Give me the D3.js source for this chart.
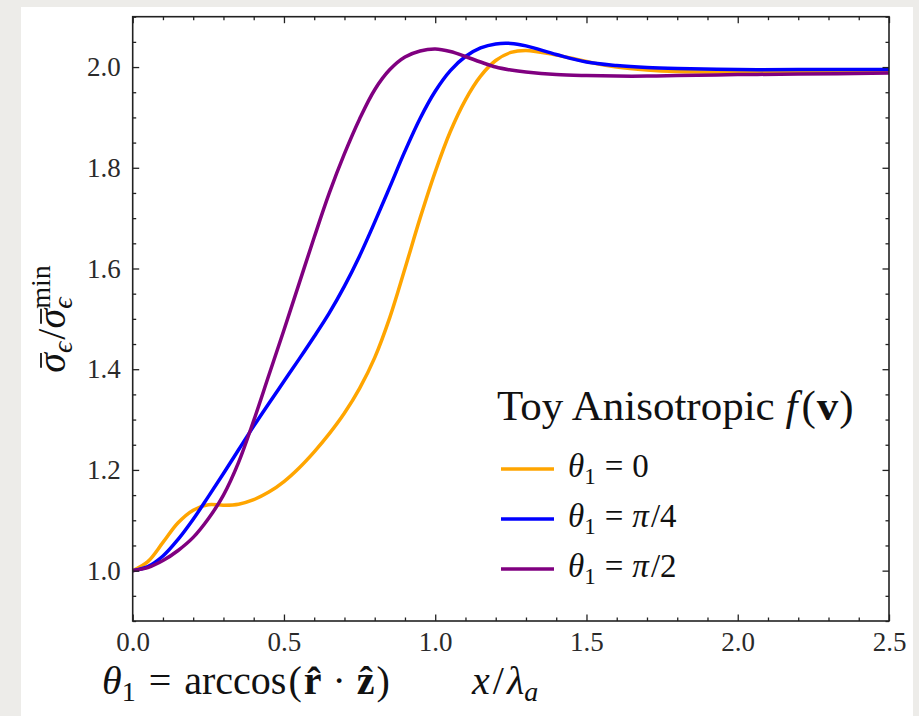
<!DOCTYPE html>
<html>
<head>
<meta charset="utf-8">
<script src="https://cdn.jsdelivr.net/npm/d3@7"></script>
<style>
  body { margin: 0; background: #edece9; }
  svg { display: block; }
</style>
</head>
<body>
<svg id="chart" width="919" height="716"></svg>
<script>
// Sampled positions x / lambda_a shared by all three curves
const xGrid = [0, 0.05, 0.1, 0.15, 0.2, 0.25, 0.3, 0.35, 0.4, 0.45, 0.5, 0.55, 0.6, 0.65,
  0.7, 0.75, 0.8, 0.85, 0.9, 0.95, 1.0, 1.05, 1.1, 1.15, 1.2, 1.25, 1.3, 1.4, 1.5, 1.6,
  1.7, 1.8, 2.0, 2.2, 2.5];

// sigma_eps / sigma_eps^min for theta_1 = 0
const ratioTheta0 = [1.0, 1.018, 1.056, 1.095, 1.120, 1.131, 1.130, 1.132, 1.141, 1.156,
  1.177, 1.204, 1.236, 1.272, 1.313, 1.362, 1.423, 1.503, 1.600, 1.700, 1.792, 1.872,
  1.935, 1.982, 2.013, 2.029, 2.033, 2.024, 2.011, 2.000, 1.994, 1.991, 1.990, 1.990, 1.990];

// theta_1 = pi/4
const ratioThetaQuarter = [1.0, 1.008, 1.029, 1.062, 1.102, 1.147, 1.193, 1.240, 1.287, 1.332,
  1.376, 1.420, 1.465, 1.512, 1.565, 1.625, 1.692, 1.762, 1.833, 1.898, 1.952, 1.993,
  2.021, 2.038, 2.046, 2.047, 2.042, 2.025, 2.010, 2.003, 1.999, 1.997, 1.995, 1.995, 1.995];

// theta_1 = pi/2
const ratioThetaHalf = [1.0, 1.006, 1.020, 1.040, 1.066, 1.103, 1.150, 1.215, 1.298, 1.388,
  1.478, 1.570, 1.662, 1.750, 1.828, 1.897, 1.955, 1.995, 2.020, 2.032, 2.036, 2.031,
  2.021, 2.010, 2.000, 1.994, 1.990, 1.985, 1.983, 1.982, 1.982, 1.983, 1.985, 1.986, 1.988];

const seriesValues = [ratioTheta0, ratioThetaQuarter, ratioThetaHalf];
const seriesAngles = ["0", "π/4", "π/2"];
const seriesColors = ["#FFA500", "#0000FF", "#800080"];

const xMajorTicks = [0, 0.5, 1.0, 1.5, 2.0, 2.5];
const yMajorTicks = [1.0, 1.2, 1.4, 1.6, 1.8, 2.0];
const xMinorTicks = d3.range(0, 26).map(i => i / 10).filter(v => Math.abs(v * 2 - Math.round(v * 2)) > 1e-6);
const yMinorTicks = d3.range(18, 43).map(i => i / 20).filter(v => Math.abs(v * 5 - Math.round(v * 5)) > 1e-6);

const FONT = "'Liberation Serif', 'DejaVu Serif', serif";
const INK = "#222";
const TEXT = "#111";

const svg = d3.select("#chart");

// paper panel behind the figure
svg.append("rect").attr("x", 21).attr("y", 7).attr("width", 892).attr("height", 716)
  .attr("fill", "#ffffff");

const plot = { left: 132.7, right: 889, top: 16.7, bottom: 621 };
const x = d3.scaleLinear().domain([0, 2.5]).range([plot.left, plot.right]);
const y = d3.scaleLinear().domain([0.9, 2.1]).range([plot.bottom, plot.top]);

svg.append("clipPath").attr("id", "plotClip").append("rect")
  .attr("x", plot.left).attr("y", plot.top)
  .attr("width", plot.right - plot.left).attr("height", plot.bottom - plot.top);

// curves
const line = d3.line()
  .x((d, i) => x(xGrid[i]))
  .y(d => y(d))
  .curve(d3.curveCatmullRom.alpha(0.5));

svg.append("g").attr("clip-path", "url(#plotClip)")
  .selectAll("path").data(seriesValues).join("path")
  .attr("d", d => line(d))
  .attr("fill", "none")
  .attr("stroke", (d, i) => seriesColors[i])
  .attr("stroke-width", 3.5)
  .attr("stroke-linejoin", "round");

// axes: inward ticks on all four sides
function styleAxis(g) {
  g.select(".domain").remove();
  g.attr("color", INK);
  g.selectAll(".tick line").attr("stroke-width", 1.3);
  g.selectAll("text").attr("font-family", FONT).attr("font-size", 27).attr("fill", "#2a2a2a");
}
const fmt = d3.format(".1f");

svg.append("g").attr("transform", `translate(0,${plot.bottom})`)
  .call(d3.axisBottom(x).tickValues(xMajorTicks).tickSize(-6.5).tickPadding(11).tickFormat(fmt))
  .call(styleAxis);
svg.append("g").attr("transform", `translate(0,${plot.bottom})`)
  .call(d3.axisBottom(x).tickValues(xMinorTicks).tickSize(-3.5).tickFormat(""))
  .call(styleAxis);
svg.append("g").attr("transform", `translate(0,${plot.top})`)
  .call(d3.axisTop(x).tickValues(xMajorTicks).tickSize(-6.5).tickFormat(""))
  .call(styleAxis);
svg.append("g").attr("transform", `translate(0,${plot.top})`)
  .call(d3.axisTop(x).tickValues(xMinorTicks).tickSize(-3.5).tickFormat(""))
  .call(styleAxis);

svg.append("g").attr("transform", `translate(${plot.left},0)`)
  .call(d3.axisLeft(y).tickValues(yMajorTicks).tickSize(-6.5).tickPadding(12).tickFormat(fmt))
  .call(styleAxis);
svg.append("g").attr("transform", `translate(${plot.left},0)`)
  .call(d3.axisLeft(y).tickValues(yMinorTicks).tickSize(-3.5).tickFormat(""))
  .call(styleAxis);
svg.append("g").attr("transform", `translate(${plot.right},0)`)
  .call(d3.axisRight(y).tickValues(yMajorTicks).tickSize(-6.5).tickFormat(""))
  .call(styleAxis);
svg.append("g").attr("transform", `translate(${plot.right},0)`)
  .call(d3.axisRight(y).tickValues(yMinorTicks).tickSize(-3.5).tickFormat(""))
  .call(styleAxis);

svg.append("rect")
  .attr("x", plot.left).attr("y", plot.top)
  .attr("width", plot.right - plot.left).attr("height", plot.bottom - plot.top)
  .attr("fill", "none").attr("stroke", INK).attr("stroke-width", 1.6);

// legend
const legend = svg.append("g").attr("font-family", FONT).attr("fill", TEXT);
const title = legend.append("text").attr("x", 497).attr("y", 420).attr("font-size", 43);
title.append("tspan").text("Toy Anisotropic ");
title.append("tspan").attr("font-style", "italic").text("f");
title.append("tspan").attr("dx", 4).text("(");
title.append("tspan").attr("dx", 1).attr("font-weight", "bold").text("v");
title.append("tspan").attr("dx", 1).text(")");

seriesAngles.forEach((a, i) => {
  const cy = 469 + i * 50;
  legend.append("line").attr("x1", 501).attr("x2", 554).attr("y1", cy).attr("y2", cy)
    .attr("stroke", seriesColors[i]).attr("stroke-width", 3.5);
  const t = legend.append("text").attr("x", 568).attr("y", cy + 8).attr("font-size", 33);
  t.append("tspan").attr("font-style", "italic").text("θ");
  t.append("tspan").attr("font-size", 23).attr("dy", 7).text("1");
  t.append("tspan").attr("dy", -7).attr("dx", 9).text("=");
  a.split("").forEach((ch, k) => {
    const s = t.append("tspan").attr("font-style", ch === "π" ? "italic" : "normal").text(ch);
    if (k === 0) s.attr("dx", 9);
    if (ch === "/") s.attr("dx", 2);
  });
});

// axis titles
const labels = svg.append("g").attr("font-family", FONT).attr("fill", TEXT);
const xt = labels.append("text").attr("x", 472).attr("y", 694).attr("font-size", 40);
xt.append("tspan").attr("font-style", "italic").text("x");
xt.append("tspan").attr("dx", 3).text("/");
xt.append("tspan").attr("dx", 3).attr("font-style", "italic").text("λ");
xt.append("tspan").attr("font-style", "italic").attr("font-size", 28).attr("dy", 7).text("a");

const at = labels.append("text").attr("x", 102).attr("y", 694).attr("font-size", 40);
at.append("tspan").attr("font-style", "italic").text("θ");
at.append("tspan").attr("font-size", 28).attr("dy", 7).text("1");
at.append("tspan").attr("dy", -7).attr("dx", 13).text("=");
at.append("tspan").attr("dx", 13).text("arccos");
at.append("tspan").attr("dx", 2).text("(");
at.append("tspan").attr("dx", 2).attr("font-weight", "bold").text("r\u0302");
at.append("tspan").attr("dx", 11).text("·");
at.append("tspan").attr("dx", 11).attr("font-weight", "bold").text("\u1E91");
at.append("tspan").attr("dx", 2).text(")");

// vertical title: sigma-bar_eps / sigma-bar_eps^min
const yg = svg.append("g").attr("transform", "translate(65,319) rotate(-90)");
const yt = yg.append("text").attr("font-family", FONT).attr("font-size", 40).attr("fill", TEXT);
yt.append("tspan").attr("font-style", "italic").text("σ");
yt.append("tspan").attr("font-style", "italic").attr("font-size", 28).attr("dy", 7).text("ϵ");
yt.append("tspan").attr("dy", -7).attr("dx", 2).text("/");
yt.append("tspan").attr("font-style", "italic").text("σ");
const subEps = yt.append("tspan").attr("font-style", "italic").attr("font-size", 28).attr("dy", 7).text("ϵ");
const supMin = yt.append("tspan").attr("font-size", 28).attr("dy", -22).text("min");
supMin.attr("dx", -subEps.node().getComputedTextLength());
const yw = yt.node().getBBox().width;
yt.attr("x", -yw / 2);
// bars over both sigmas
[0, 3].forEach(idx => {
  const ext = yt.node().getExtentOfChar(idx);
  yg.append("line")
    .attr("x1", ext.x + ext.width * 0.25).attr("x2", ext.x + ext.width * 1.0)
    .attr("y1", -24).attr("y2", -24)
    .attr("stroke", TEXT).attr("stroke-width", 1.8);
});
</script>
</body>
</html>
